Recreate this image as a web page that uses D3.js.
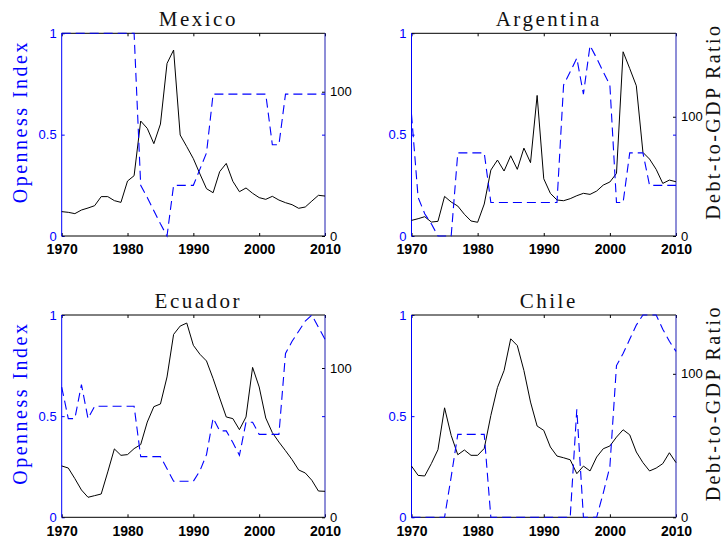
<!DOCTYPE html>
<html>
<head>
<meta charset="utf-8">
<script src="https://cdn.jsdelivr.net/npm/d3@7"></script>
<style>
  body { margin: 0; background: #fff; }
  .tick text { font-family: "Liberation Sans", Arial, sans-serif; }
  .title, .ylab { font-family: "Liberation Serif", "Times New Roman", serif; }
</style>
</head>
<body>
<div id="chart"></div>
<script>
// years on the x axis
var years = d3.range(1970, 2011);
var xTicks = [1970, 1980, 1990, 2000, 2010];
var leftTicks = [0, 0.5, 1];
var rightTicks = [0, 100];

// openness index (left axis, blue dashed)
var mexicoOpen = [1, 1, 1, 1, 1, 1, 1, 1, 1, 1, 1, 1, 0.25, 0.19, 0.125, 0.06, 0, 0.25, 0.25, 0.25,
  0.25, 0.33, 0.41, 0.7, 0.7, 0.7, 0.7, 0.7, 0.7, 0.7, 0.7, 0.7, 0.45, 0.45, 0.7, 0.7, 0.7, 0.7, 0.7, 0.7, 0.7];
var argentinaOpen = [0.6, 0.19, 0.11, 0.06, 0, 0, 0, 0.41, 0.41, 0.41, 0.41, 0.41, 0.165, 0.165, 0.165, 0.165, 0.165, 0.165, 0.165, 0.165,
  0.165, 0.165, 0.165, 0.745, 0.81, 0.877, 0.7, 0.94, 0.877, 0.81, 0.745, 0.165, 0.165, 0.41, 0.41, 0.41, 0.25, 0.25, 0.25, 0.25, 0.25];
var ecuadorOpen = [0.644, 0.488, 0.488, 0.656, 0.488, 0.549, 0.549, 0.549, 0.549, 0.549, 0.549, 0.549, 0.3, 0.3, 0.3, 0.3, 0.24, 0.178, 0.178, 0.178,
  0.178, 0.23, 0.31, 0.49, 0.427, 0.427, 0.37, 0.306, 0.47, 0.47, 0.41, 0.41, 0.41, 0.41, 0.81, 0.87, 0.92, 0.97, 1, 0.94, 0.88];
var chileOpen = [0, 0, 0, 0, 0, 0, 0.2, 0.41, 0.41, 0.41, 0.41, 0.41, 0, 0, 0, 0, 0, 0, 0, 0,
  0, 0, 0, 0, 0, 0.534, 0, 0, 0, 0.12, 0.25, 0.75, 0.81, 0.88, 0.95, 1, 1, 1, 0.93, 0.87, 0.82];

// debt-to-GDP ratio (right axis, black solid)
var mexicoDebt = [16.9, 16.4, 15.5, 18.0, 19.4, 21.0, 27.3, 27.3, 24.5, 23.3, 38.1, 41.8, 79.7, 74.6, 64.0, 77.6, 119.6, 128.9, 70.0, 61.9,
  53.6, 43.0, 32.8, 30.0, 44.6, 50.3, 37.9, 30.7, 33.3, 29.6, 26.6, 25.4, 27.5, 24.9, 23.1, 21.7, 19.2, 20.1, 24.2, 28.2, 27.7];
var argentinaDebt = [13.1, 14.5, 16.2, 11.7, 12.3, 33.2, 28.5, 25.1, 18.2, 12.6, 11.5, 26.8, 55.3, 63.7, 54.5, 67.3, 55.9, 73.7, 61.5, 117.9,
  48.0, 35.8, 30.2, 29.6, 31.3, 33.8, 35.8, 34.9, 37.7, 42.7, 45.3, 52.5, 154.5, 140.5, 126.0, 70.1, 64.5, 55.9, 44.1, 46.9, 45.5];
var ecuadorDebt = [34.4, 33.0, 25.9, 18.3, 13.4, 14.5, 15.6, 30.4, 45.8, 41.5, 42.0, 46.0, 48.7, 63.8, 74.1, 75.9, 94.0, 122.5, 128.1, 130.1,
  115.2, 109.2, 104.7, 92.9, 79.9, 67.2, 66.1, 58.7, 67.2, 100.4, 87.3, 66.5, 56.7, 50.4, 44.6, 38.6, 31.7, 29.7, 24.8, 17.6, 17.4];
var chileDebt = [35.7, 29.2, 28.8, 37.4, 47.1, 76.3, 57.1, 43.6, 46.9, 43.2, 43.2, 48.0, 71.0, 90.5, 102.3, 124.4, 119.7, 102.3, 80.3, 63.6,
  60.6, 49.0, 42.7, 41.5, 40.1, 30.4, 35.7, 32.3, 42.0, 47.8, 49.7, 55.9, 61.0, 57.5, 45.5, 38.1, 32.3, 34.3, 37.4, 45.0, 38.1];

var countries = ["Mexico", "Argentina", "Ecuador", "Chile"];

//panel boxes (x0,x1,y0,y1) and right axis upper limit
var panels = [
  { name: countries[0], open: mexicoOpen, debt: mexicoDebt, x0: 61.7, x1: 325, y0: 33.3, y1: 236, rmax: 140.5, col: 0 },
  { name: countries[1], open: argentinaOpen, debt: argentinaDebt, x0: 411.5, x1: 676, y0: 33.3, y1: 236, rmax: 170, col: 1 },
  { name: countries[2], open: ecuadorOpen, debt: ecuadorDebt, x0: 61.7, x1: 325, y0: 315, y1: 517.3, rmax: 135.5, col: 0 },
  { name: countries[3], open: chileOpen, debt: chileDebt, x0: 411.5, x1: 676, y0: 315, y1: 517.3, rmax: 141, col: 1 }
];

var blue = "#0000ff";

var svg = d3.select("#chart")
  .append("svg")
  .attr("width", 724)
  .attr("height", 545);

panels.forEach(function (p) {
  var x = d3.scaleLinear().domain([1970, 2010]).range([p.x0, p.x1]);
  var yL = d3.scaleLinear().domain([0, 1]).range([p.y1, p.y0]);
  var yR = d3.scaleLinear().domain([0, p.rmax]).range([p.y1, p.y0]);
  var g = svg.append("g");

  //bottom axis with labels
  var xb = g.append("g")
    .attr("transform", "translate(0," + p.y1 + ")")
    .call(d3.axisBottom(x).tickValues(xTicks).tickFormat(d3.format("d")).tickSizeInner(-3).tickSizeOuter(0).tickPadding(8.5));
  xb.selectAll("text").style("font-size", "14px").style("font-weight", "bold").attr("fill", "#000");

  //top ticks
  g.append("g")
    .attr("transform", "translate(0," + p.y0 + ")")
    .call(d3.axisTop(x).tickValues(xTicks).tickFormat("").tickSizeInner(-3).tickSizeOuter(0));

  //left axis, blue
  var yl = g.append("g")
    .attr("transform", "translate(" + p.x0 + ",0)")
    .call(d3.axisLeft(yL).tickValues(leftTicks).tickFormat(function (d) { return d === 0.5 ? "0.5" : d; })
      .tickSizeInner(-3).tickSizeOuter(0).tickPadding(5));
  yl.selectAll("line").attr("stroke", blue);
  yl.selectAll("text").style("font-size", "13px").attr("fill", blue);

  //blue ticks mirrored on the right
  var ylr = g.append("g")
    .attr("transform", "translate(" + p.x1 + ",0)")
    .call(d3.axisRight(yL).tickValues([0.5]).tickFormat("").tickSizeInner(-3).tickSizeOuter(0));
  ylr.selectAll("line").attr("stroke", blue);

  //right axis, black
  var yr = g.append("g")
    .attr("transform", "translate(" + p.x1 + ",0)")
    .call(d3.axisRight(yR).tickValues(rightTicks).tickSizeInner(-3).tickSizeOuter(0).tickPadding(5));
  yr.selectAll("text").style("font-size", "13px").attr("fill", "#000");

  g.selectAll(".domain").remove();

  //box: top/bottom black, sides blue
  g.append("line").attr("x1", p.x0).attr("x2", p.x1).attr("y1", p.y0).attr("y2", p.y0).attr("stroke", "#000");
  g.append("line").attr("x1", p.x0).attr("x2", p.x1).attr("y1", p.y1).attr("y2", p.y1).attr("stroke", "#000");
  g.append("line").attr("x1", p.x0).attr("x2", p.x0).attr("y1", p.y0).attr("y2", p.y1).attr("stroke", blue);
  g.append("line").attr("x1", p.x1).attr("x2", p.x1).attr("y1", p.y0).attr("y2", p.y1).attr("stroke", "#1c1cb0");

  //debt line
  var debtLine = d3.line().x(function (d, i) { return x(years[i]); }).y(function (d) { return yR(d); });
  g.append("path")
    .datum(p.debt)
    .attr("d", debtLine)
    .attr("fill", "none")
    .attr("stroke", "#000")
    .attr("stroke-width", 1);

  //openness line
  var openLine = d3.line().x(function (d, i) { return x(years[i]); }).y(function (d) { return yL(d); });
  g.append("path")
    .datum(p.open)
    .attr("d", openLine)
    .attr("fill", "none")
    .attr("stroke", blue)
    .attr("stroke-width", 1.1)
    .attr("stroke-dasharray", "9,5");

  //title
  g.append("text")
    .attr("class", "title")
    .attr("x", (p.x0 + p.x1) / 2 + 5)
    .attr("y", p.y0 - 7.5)
    .attr("text-anchor", "middle")
    .style("font-size", "21px")
    .style("letter-spacing", "2.5px")
    .attr("fill", "#111")
    .text(p.name);

  var cy = (p.y0 + p.y1) / 2 - 13;
  if (p.col === 0) {
    g.append("text")
      .attr("class", "ylab")
      .attr("transform", "translate(27," + cy + ") rotate(-90)")
      .attr("text-anchor", "middle")
      .style("font-size", "20px")
      .style("letter-spacing", "2.5px")
      .attr("fill", blue)
      .text("Openness Index");
  } else {
    g.append("text")
      .attr("class", "ylab")
      .attr("transform", "translate(720," + cy + ") rotate(-90)")
      .attr("text-anchor", "middle")
      .style("font-size", "20px")
      .style("letter-spacing", "2.4px")
      .attr("fill", "#111")
      .text("Debt-to-GDP Ratio");
  }
});
</script>
</body>
</html>
